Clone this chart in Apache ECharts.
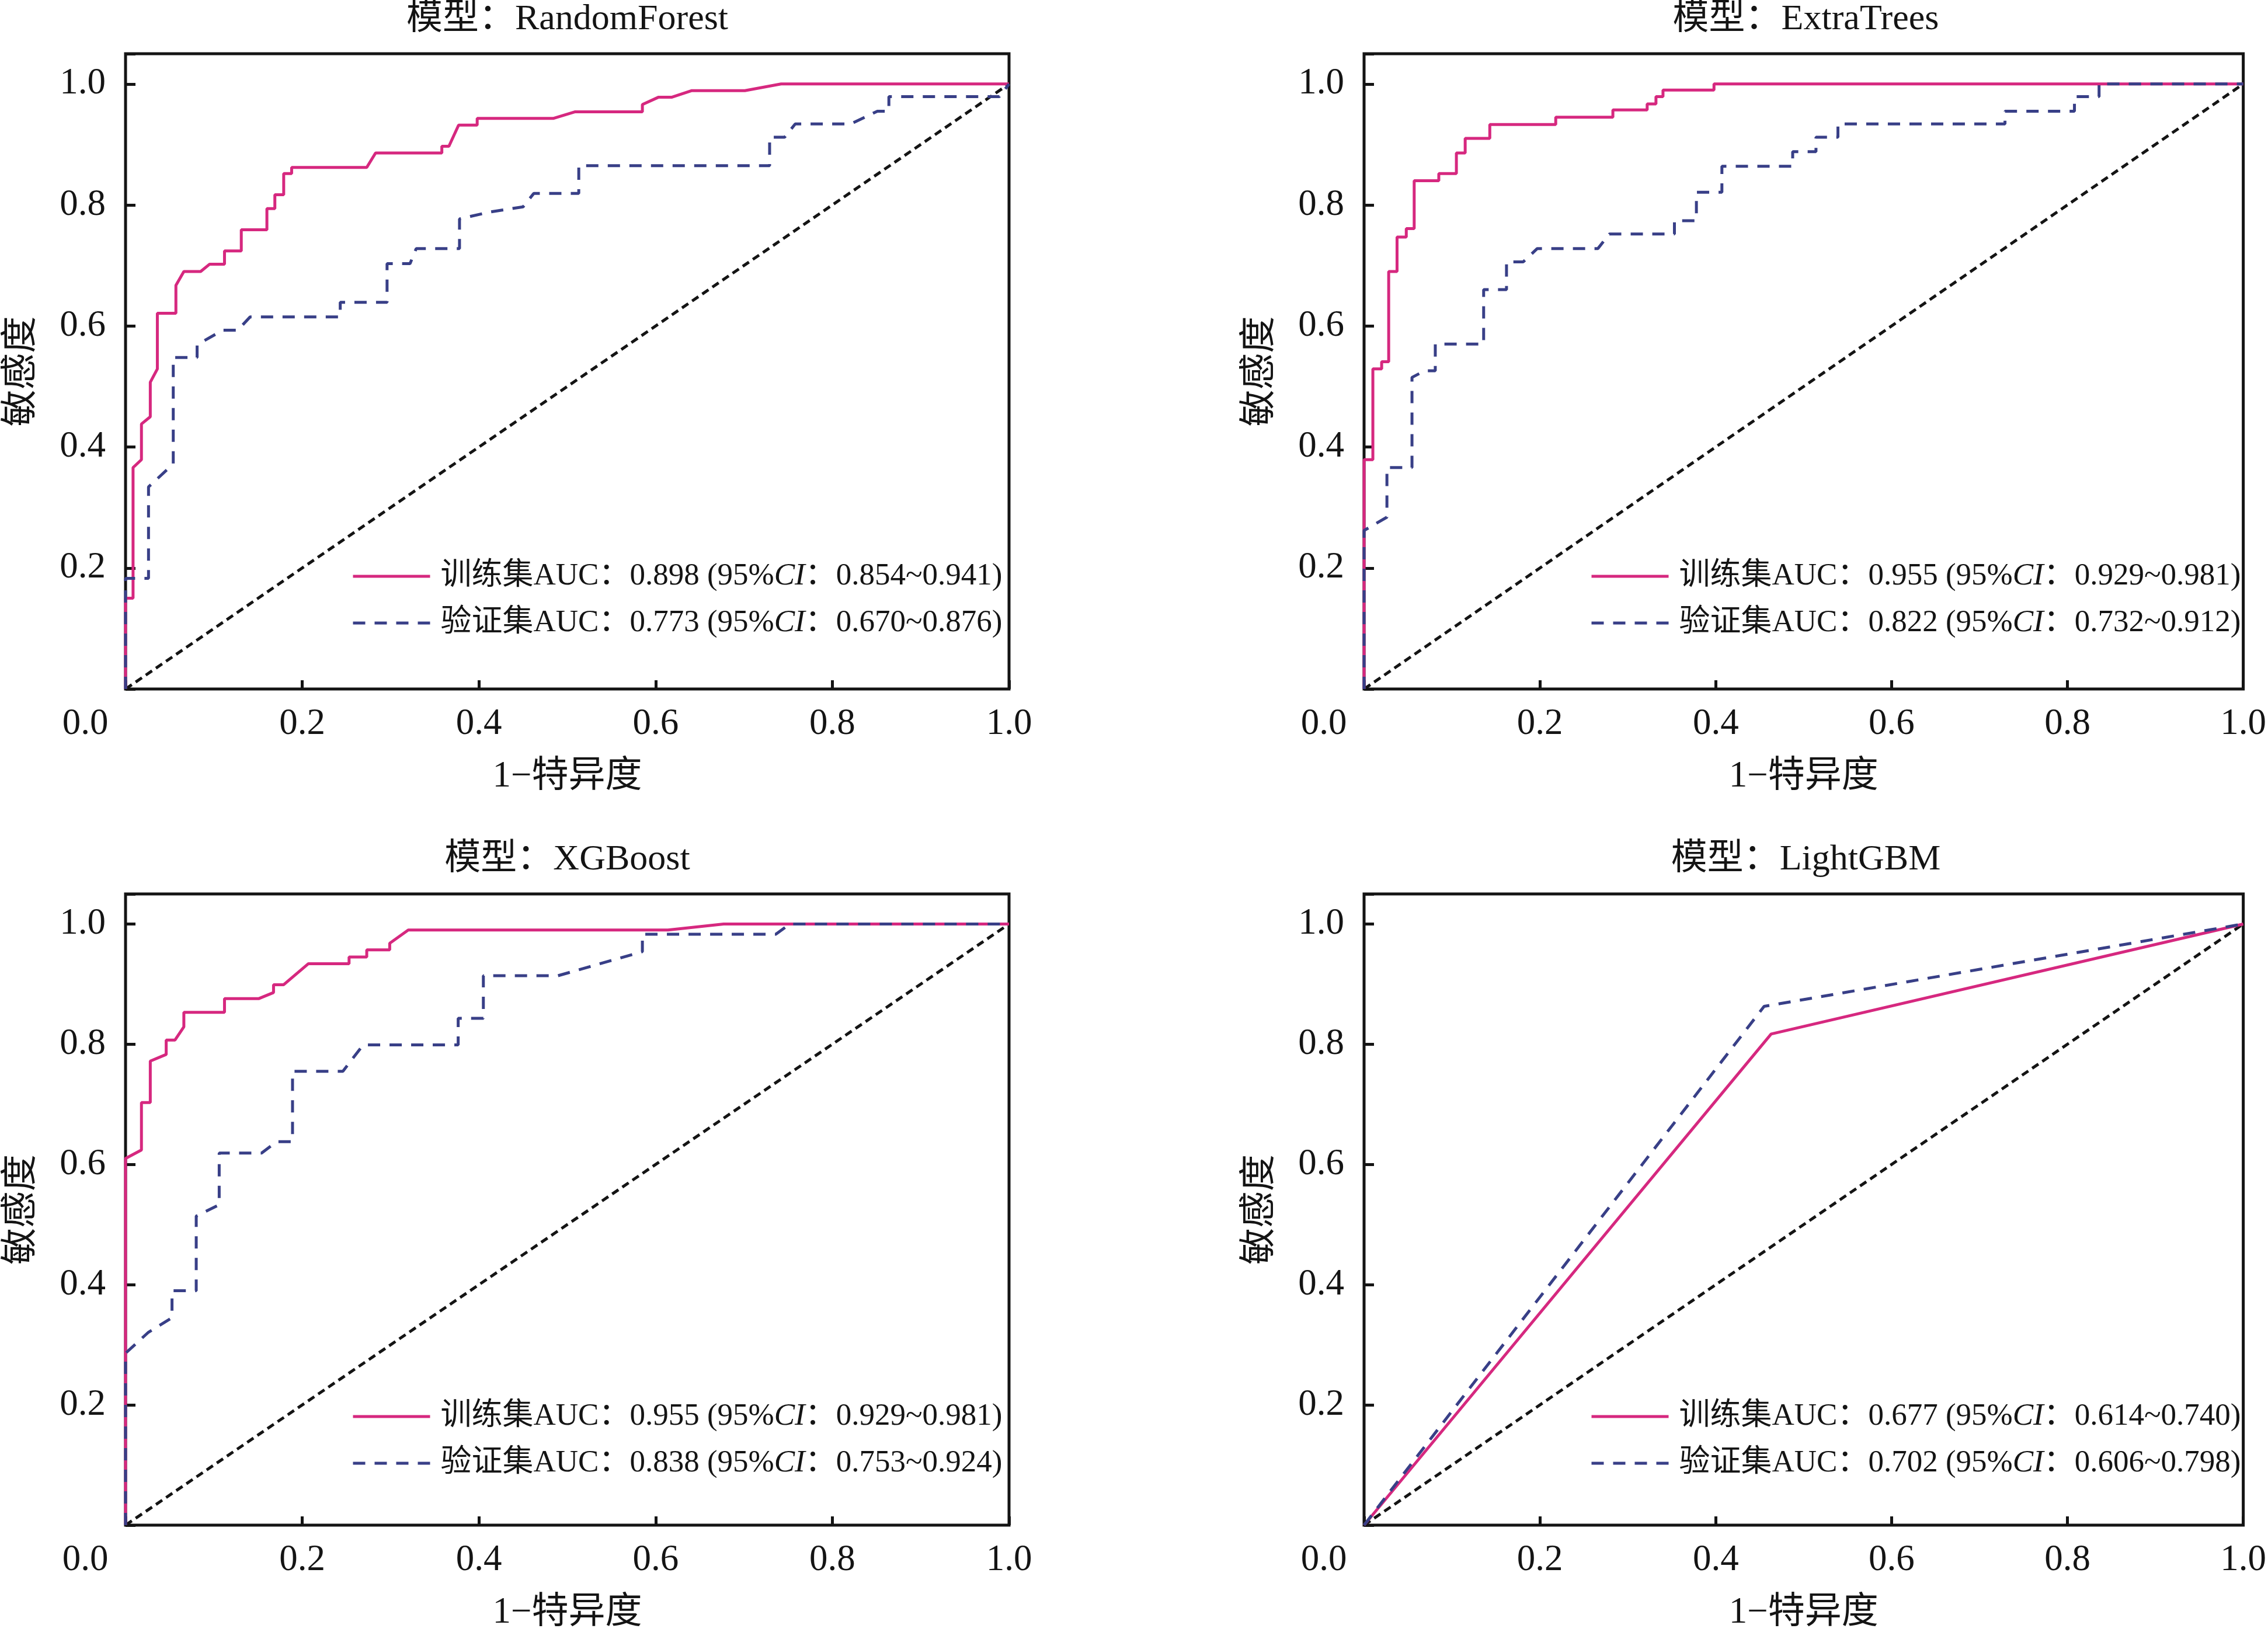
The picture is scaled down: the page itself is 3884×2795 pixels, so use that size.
<!DOCTYPE html>
<html>
<head>
<meta charset="utf-8">
<title>ROC</title>
<script src="https://cdn.jsdelivr.net/npm/echarts@6/dist/echarts.min.js"></script>
<style>
html, body { margin: 0; padding: 0; background: #fff; }
#chart { width: 3884px; height: 2795px; }
</style>
</head>
<body>
<div id="chart"></div>
<script>
// ---- data: [1-特异度, 敏感度] ----
var models = ['RandomForest', 'ExtraTrees', 'XGBoost', 'LightGBM'];

var trainLabels = [
    '训练集AUC：0.898 (95%CI：0.854~0.941)',
    '训练集AUC：0.955 (95%CI：0.929~0.981)',
    '训练集AUC：0.955 (95%CI：0.929~0.981)',
    '训练集AUC：0.677 (95%CI：0.614~0.740)'
];
var validLabels = [
    '验证集AUC：0.773 (95%CI：0.670~0.876)',
    '验证集AUC：0.822 (95%CI：0.732~0.912)',
    '验证集AUC：0.838 (95%CI：0.753~0.924)',
    '验证集AUC：0.702 (95%CI：0.606~0.798)'
];

var rfTrain = [[0,0],[0,0.15],[0.0085,0.15],[0.0085,0.366],[0.018,0.379],[0.018,0.438],[0.028,0.45],[0.028,0.507],
    [0.036,0.529],[0.036,0.621],[0.057,0.621],[0.057,0.667],[0.066,0.69],[0.085,0.69],[0.095,0.702],[0.112,0.702],
    [0.112,0.724],[0.131,0.724],[0.131,0.759],[0.160,0.759],[0.160,0.794],[0.169,0.794],[0.169,0.817],[0.179,0.817],
    [0.179,0.852],[0.188,0.852],[0.188,0.862],[0.273,0.862],[0.283,0.886],[0.358,0.886],[0.358,0.897],[0.366,0.897],
    [0.377,0.932],[0.398,0.932],[0.398,0.943],[0.484,0.943],[0.509,0.954],[0.585,0.954],[0.585,0.966],[0.603,0.978],
    [0.618,0.978],[0.641,0.989],[0.701,0.989],[0.742,1],[1,1]];
var rfValid = [[0,0],[0,0.183],[0.026,0.183],[0.026,0.334],[0.054,0.372],[0.054,0.548],[0.081,0.548],[0.081,0.569],
    [0.11,0.593],[0.127,0.593],[0.141,0.615],[0.243,0.615],[0.243,0.639],[0.296,0.639],[0.296,0.703],[0.322,0.703],
    [0.329,0.728],[0.378,0.728],[0.378,0.777],[0.411,0.788],[0.45,0.797],[0.462,0.819],[0.513,0.819],[0.513,0.865],
    [0.729,0.865],[0.729,0.912],[0.746,0.912],[0.758,0.934],[0.821,0.934],[0.851,0.955],[0.864,0.955],[0.864,0.979],
    [0.989,0.979],[1,1]];

var etTrain = [[0,0],[0,0.379],[0.01,0.379],[0.01,0.529],[0.02,0.529],[0.02,0.541],[0.028,0.541],[0.028,0.69],
    [0.0375,0.69],[0.0375,0.747],[0.048,0.747],[0.048,0.761],[0.057,0.761],[0.057,0.84],[0.085,0.84],[0.085,0.852],
    [0.105,0.852],[0.105,0.886],[0.115,0.886],[0.115,0.91],[0.143,0.91],[0.143,0.933],[0.218,0.933],[0.218,0.945],
    [0.283,0.945],[0.283,0.957],[0.322,0.957],[0.322,0.967],[0.332,0.967],[0.332,0.979],[0.34,0.979],[0.34,0.99],
    [0.398,0.99],[0.398,1],[1,1]];
var etValid = [[0,0],[0,0.262],[0.026,0.284],[0.026,0.366],[0.0545,0.366],[0.0545,0.515],[0.069,0.526],[0.081,0.526],
    [0.081,0.57],[0.136,0.57],[0.136,0.66],[0.162,0.66],[0.162,0.706],[0.181,0.706],[0.197,0.728],[0.266,0.728],
    [0.279,0.752],[0.353,0.752],[0.353,0.774],[0.378,0.774],[0.378,0.821],[0.407,0.821],[0.407,0.864],[0.4875,0.864],
    [0.4875,0.888],[0.514,0.888],[0.514,0.912],[0.539,0.912],[0.539,0.934],[0.729,0.934],[0.729,0.955],[0.808,0.955],
    [0.808,0.979],[0.836,0.979],[0.836,1],[1,1]];

var xgbTrain = [[0,0],[0,0.61],[0.018,0.624],[0.018,0.703],[0.028,0.703],[0.028,0.772],[0.046,0.783],[0.046,0.807],
    [0.056,0.807],[0.066,0.829],[0.066,0.853],[0.112,0.853],[0.112,0.876],[0.151,0.876],[0.1675,0.886],[0.1675,0.899],
    [0.179,0.899],[0.207,0.934],[0.253,0.934],[0.253,0.945],[0.273,0.945],[0.273,0.957],[0.299,0.957],[0.299,0.968],
    [0.32,0.99],[0.614,0.99],[0.677,1],[1,1]];
var xgbValid = [[0,0],[0,0.286],[0.026,0.321],[0.0526,0.345],[0.0526,0.39],[0.08,0.39],[0.08,0.514],[0.106,0.533],
    [0.106,0.619],[0.154,0.619],[0.171,0.638],[0.189,0.638],[0.189,0.755],[0.246,0.755],[0.269,0.799],[0.3765,0.799],
    [0.3765,0.843],[0.405,0.843],[0.405,0.914],[0.4895,0.914],[0.585,0.954],[0.585,0.983],[0.736,0.983],[0.752,1],[1,1]];

var lgbTrain = [[0,0],[0.463,0.817],[1,1]];
var lgbValid = [[0,0],[0.455,0.863],[1,1]];

var trainData = [rfTrain, etTrain, xgbTrain, lgbTrain];
var validData = [rfValid, etValid, xgbValid, lgbValid];
var chance = [[0,0],[1,1]];

// ---- layout ----
var gridPos = [[215, 92], [2336, 92], [215, 1531], [2336, 1531]];
var gridW = 1513, gridH = 1088;
var FONT = '"Liberation Serif", "Noto Sans CJK SC", serif';
var INK = '#141414';
var PINK = '#D6287F';
var NAVY = '#383F87';

var myChart = echarts.init(document.getElementById('chart'));

var grid = [], xAxis = [], yAxis = [], series = [], legend = [], graphic = [];

for (var i = 0; i < 4; i++) {
    var gl = gridPos[i][0], gt = gridPos[i][1];
    grid.push({
        left: gl, top: gt, width: gridW, height: gridH,
        show: true, borderColor: INK, borderWidth: 5, backgroundColor: 'transparent'
    });
    xAxis.push({
        type: 'value', gridIndex: i, min: 0, max: 1, interval: 0.2,
        name: '1−特异度', nameLocation: 'middle', nameGap: 119,
        nameTextStyle: { fontFamily: FONT, fontSize: 63, color: INK },
        axisLine: { show: false },
        splitLine: { show: false },
        axisTick: { inside: true, length: 15, lineStyle: { color: INK, width: 5 } },
        axisLabel: {
            margin: 29, color: INK, fontFamily: FONT, fontSize: 63,
            formatter: function (v) { return v === 0 ? '{z|0.0}' : v.toFixed(1); },
            rich: { z: { fontFamily: FONT, fontSize: 63, color: INK, padding: [0, 138, 0, 0] } }
        }
    });
    yAxis.push({
        type: 'value', gridIndex: i, min: 0, max: 1.05, interval: 0.2,
        name: '敏感度', nameLocation: 'middle', nameGap: 146,
        nameTextStyle: { fontFamily: FONT, fontSize: 63, color: INK },
        axisLine: { show: false },
        splitLine: { show: false },
        axisTick: { inside: true, length: 17, lineStyle: { color: INK, width: 5 } },
        axisLabel: {
            margin: 34, color: INK, fontFamily: FONT, fontSize: 63,
            formatter: function (v) { return (v === 0 || v > 1.001) ? '' : v.toFixed(1); }
        }
    });
    series.push({
        type: 'line', xAxisIndex: i, yAxisIndex: i, data: chance, symbol: 'none', clip: false,
        silent: true, lineStyle: { color: INK, width: 5, type: [13, 8] }, z: 2
    });
    series.push({
        name: trainLabels[i], type: 'line', xAxisIndex: i, yAxisIndex: i, data: trainData[i],
        symbol: 'none', clip: false, color: PINK,
        lineStyle: { color: PINK, width: 5, type: 'solid' }, z: 3
    });
    series.push({
        name: validLabels[i], type: 'line', xAxisIndex: i, yAxisIndex: i, data: validData[i],
        symbol: 'none', clip: false, color: NAVY,
        lineStyle: { color: NAVY, width: 5, type: [21, 16] }, z: 4
    });
    legend.push({
        data: [trainLabels[i], validLabels[i]],
        orient: 'vertical', left: gl + 387, top: gt + 865, padding: 0,
        itemWidth: 132, itemHeight: 20, itemGap: 20,
        selectedMode: false,
        itemStyle: { opacity: 0 },
        lineStyle: { width: 5 },
        textStyle: {
            fontFamily: FONT, fontSize: 53, color: INK, lineHeight: 60, padding: [0, 0, 0, 13],
            rich: { i: { fontFamily: FONT, fontSize: 53, fontStyle: 'italic', color: INK } }
        },
        formatter: function (name) { return name.replace('CI', '{i|CI}'); }
    });
    graphic.push({
        type: 'text', x: gl + gridW / 2, y: gt - 58,
        style: {
            text: '模型：' + models[i], fontFamily: FONT, fontSize: 62, fill: INK,
            align: 'center', verticalAlign: 'middle'
        }
    });
}

var option = {
    backgroundColor: '#fff',
    animation: false,
    grid: grid,
    xAxis: xAxis,
    yAxis: yAxis,
    legend: legend,
    graphic: graphic,
    series: series
};
myChart.setOption(option);
</script>
</body>
</html>
